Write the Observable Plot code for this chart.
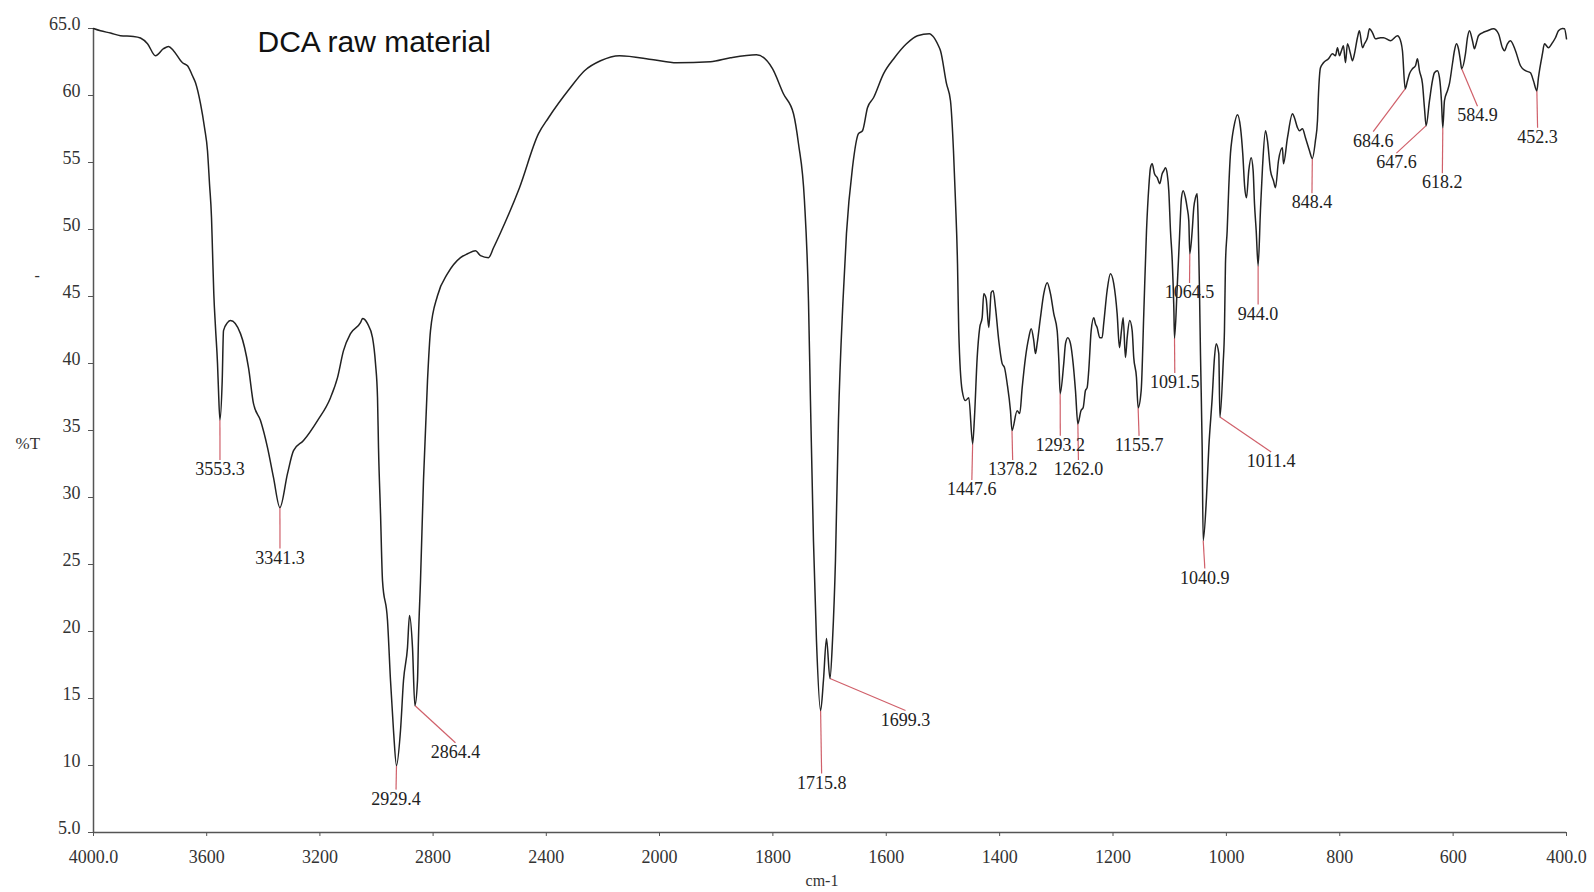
<!DOCTYPE html>
<html>
<head>
<meta charset="utf-8">
<script src="https://cdn.jsdelivr.net/npm/d3@7"></script>
<script src="https://cdn.jsdelivr.net/npm/@observablehq/plot@0.6"></script>
<style>
  html, body { margin: 0; padding: 0; background: #fff; }
  #chart svg { display: block; }
</style>
</head>
<body>
<div id="chart"></div>
<script>
// FT-IR transmission spectrum of DCA raw material (wavenumber in cm-1, %T)
const wavenumber = [
  4000.0, 3975.2, 3939.9, 3904.6, 3858.6, 3833.9, 3809.1, 3780.9, 3752.6, 3734.9,
  3717.3, 3685.5, 3667.8, 3650.2, 3639.5, 3621.9, 3607.7, 3597.2, 3590.1, 3583.0,
  3579.5, 3574.9, 3568.9, 3561.8, 3558.3, 3553.3, 3545.2, 3540.6, 3526.5, 3515.9,
  3480.6, 3452.3, 3434.6, 3409.9, 3385.1, 3363.9, 3341.3, 3314.5, 3293.2, 3257.9,
  3208.4, 3162.5, 3137.8, 3116.6, 3091.9, 3056.5, 3049.4, 3031.7, 3014.1, 3003.5,
  2996.4, 2992.9, 2985.8, 2978.8, 2961.1, 2950.5, 2939.9, 2929.4, 2915.2, 2904.6,
  2890.5, 2883.4, 2872.8, 2864.4, 2855.1, 2851.6, 2844.5, 2834.0, 2819.8, 2809.2,
  2784.5, 2749.1, 2703.2, 2678.4, 2650.1, 2632.5, 2604.2, 2586.5, 2561.8, 2494.7,
  2427.5, 2392.2, 2318.0, 2265.0, 2208.4, 2141.3, 2021.2, 1970.0, 1910.1, 1874.8,
  1828.9, 1800.7, 1781.4, 1763.6, 1754.8, 1744.3, 1737.2, 1733.7, 1728.4, 1723.1,
  1715.8, 1710.8, 1705.4, 1699.3, 1694.8, 1689.6, 1684.3, 1676.3, 1670.2, 1659.6,
  1649.0, 1641.9, 1633.1, 1622.5, 1604.9, 1585.5, 1564.3, 1544.9, 1523.7, 1518.5,
  1507.9, 1504.3, 1493.7, 1486.7, 1481.4, 1477.9, 1474.3, 1472.1, 1466.1, 1460.3,
  1454.4, 1447.6, 1444.4, 1439.6, 1435.1, 1430.8, 1428.0, 1423.8, 1419.1, 1414.9,
  1411.4, 1407.3, 1401.5, 1395.5, 1391.4, 1386.7, 1380.9, 1378.2, 1369.1, 1364.5,
  1360.2, 1354.4, 1348.6, 1344.3, 1339.8, 1336.8, 1333.8, 1328.0, 1322.1, 1316.1,
  1310.3, 1304.5, 1298.5, 1295.3, 1293.2, 1286.9, 1283.8, 1279.8, 1275.0, 1270.3,
  1266.2, 1262.0, 1256.5, 1252.6, 1248.6, 1245.6, 1242.8, 1238.5, 1233.9, 1231.0,
  1228.0, 1223.4, 1219.2, 1216.4, 1210.4, 1204.5, 1198.7, 1192.7, 1188.6, 1185.1,
  1182.1, 1178.0, 1175.0, 1170.5, 1166.2, 1163.4, 1158.6, 1155.7, 1150.3, 1145.7,
  1140.9, 1136.9, 1133.9, 1130.9, 1126.8, 1122.0, 1117.5, 1113.3, 1110.4, 1107.4,
  1104.4, 1101.6, 1098.6, 1095.5, 1092.7, 1091.5, 1086.8, 1082.7, 1079.2, 1076.2,
  1072.2, 1069.2, 1066.3, 1064.5, 1060.3, 1057.5, 1054.5, 1051.5, 1049.8, 1047.5,
  1045.7, 1042.7, 1040.9, 1035.1, 1031.0, 1025.0, 1021.0, 1018.0, 1013.4, 1011.4,
  1005.7, 1003.4, 1001.6, 998.6, 995.8, 992.8, 989.8, 987.0, 980.4, 975.1,
  971.1, 967.6, 964.5, 960.5, 956.3, 952.8, 950.4, 947.4, 944.0, 939.9,
  936.3, 931.0, 927.5, 922.2, 916.9, 913.4, 908.1, 901.1, 899.3, 892.2,
  883.4, 879.9, 874.6, 871.0, 865.8, 860.5, 853.4, 848.4, 842.9, 839.3,
  837.5, 834.0, 828.7, 819.9, 812.9, 807.6, 804.0, 800.5, 797.0, 793.5,
  789.9, 786.4, 781.1, 777.6, 774.0, 768.8, 765.3, 759.9, 756.4, 751.1,
  747.6, 742.2, 737.0, 728.2, 722.9, 710.5, 698.2, 694.7, 689.4, 684.6,
  680.5, 677.0, 671.7, 666.4, 662.9, 659.4, 654.1, 650.6, 647.6, 641.7,
  636.5, 633.0, 627.7, 624.1, 620.6, 618.2, 615.3, 610.0, 606.5, 601.2,
  597.7, 594.1, 590.6, 587.1, 584.9, 578.2, 574.7, 571.2, 565.9, 562.4,
  558.9, 555.3, 548.3, 539.4, 528.8, 520.0, 513.0, 509.4, 504.2, 498.9,
  490.0, 481.2, 472.4, 463.6, 458.3, 452.3, 449.5, 442.4, 438.9, 431.8,
  424.8, 419.5, 414.2, 407.2, 403.6, 400.0
];

const transmittance = [
  65.00, 64.83, 64.66, 64.46, 64.41, 64.29, 63.86, 62.97, 63.49, 63.66,
  63.34, 62.44, 62.22, 61.47, 60.95, 59.39, 57.60, 55.88, 53.42, 50.88,
  48.42, 45.21, 42.68, 39.99, 37.98, 35.80, 38.72, 42.45, 43.05, 43.20,
  42.23, 39.69, 37.00, 35.74, 33.72, 31.48, 29.25, 31.78, 33.50, 34.25,
  35.74, 37.45, 38.95, 40.96, 42.23, 43.05, 43.35, 42.97, 41.93, 39.99,
  37.45, 33.72, 28.80, 23.80, 20.82, 16.34, 12.61, 10.00, 12.61, 16.34,
  18.80, 21.19, 18.80, 14.48, 16.34, 19.55, 23.80, 31.26, 38.72, 42.45,
  45.06, 46.70, 47.90, 48.19, 48.42, 48.05, 47.90, 48.64, 49.76, 53.12,
  57.15, 58.34, 60.50, 61.85, 62.59, 62.97, 62.67, 62.44, 62.52, 62.82,
  63.04, 62.00, 60.13, 58.64, 56.40, 52.15, 44.69, 37.23, 26.79, 19.33,
  14.10, 16.34, 19.47, 16.49, 19.33, 25.30, 35.74, 44.69, 49.69, 54.61,
  57.15, 57.37, 59.09, 59.83, 61.62, 62.82, 63.86, 64.46, 64.61, 64.46,
  63.71, 63.34, 60.88, 59.61, 55.88, 52.15, 47.45, 42.45, 37.98, 37.23,
  37.45, 34.00, 35.96, 40.44, 42.68, 43.42, 45.21, 44.84, 42.68, 45.29,
  45.43, 44.17, 41.71, 39.99, 39.69, 38.50, 36.48, 35.00, 36.48, 36.26,
  38.20, 40.44, 41.93, 42.60, 41.71, 40.74, 41.48, 43.42, 45.21, 46.03,
  45.21, 43.72, 42.45, 39.99, 37.75, 39.99, 41.48, 41.93, 41.48, 39.99,
  37.98, 35.50, 36.48, 36.71, 37.98, 38.20, 39.47, 42.45, 43.42, 42.97,
  42.68, 41.93, 41.93, 42.97, 45.43, 46.70, 45.96, 43.72, 41.18, 42.45,
  43.42, 40.44, 41.93, 43.20, 42.45, 40.44, 38.95, 36.70, 37.98, 43.72,
  49.91, 53.12, 54.61, 54.91, 54.16, 53.87, 53.42, 54.16, 54.39, 54.61,
  54.16, 52.90, 49.91, 47.67, 44.17, 41.90, 45.66, 49.39, 52.37, 52.90,
  52.37, 51.63, 50.66, 48.20, 49.91, 51.63, 52.37, 52.67, 50.66, 45.66,
  40.74, 33.72, 26.80, 30.00, 33.72, 37.45, 40.44, 41.48, 40.74, 36.00,
  39.99, 42.45, 47.45, 49.91, 53.12, 55.66, 56.85, 57.60, 58.57, 57.60,
  55.66, 53.12, 52.37, 54.39, 55.36, 54.39, 51.93, 49.91, 47.30, 51.40,
  54.61, 57.37, 56.63, 54.39, 53.64, 53.12, 55.13, 56.10, 54.91, 56.85,
  58.64, 58.34, 57.60, 57.37, 57.52, 56.85, 55.88, 55.30, 56.63, 58.12,
  60.13, 62.07, 62.44, 62.74, 63.12, 62.97, 63.56, 62.97, 63.34, 63.71,
  62.44, 63.86, 63.12, 62.59, 63.12, 64.31, 64.83, 63.56, 63.86, 64.31,
  64.98, 64.68, 64.23, 64.31, 64.31, 64.09, 64.46, 64.31, 63.34, 60.50,
  61.10, 61.62, 62.00, 62.22, 62.74, 61.85, 60.88, 59.09, 57.75, 59.61,
  61.10, 61.70, 61.85, 61.33, 59.61, 57.60, 59.61, 60.36, 60.88, 62.37,
  63.34, 63.86, 63.49, 62.59, 62.00, 63.12, 64.31, 64.83, 64.09, 63.49,
  63.94, 64.46, 64.68, 64.83, 64.98, 64.61, 63.56, 63.34, 63.86, 64.09,
  63.34, 62.22, 61.85, 61.70, 61.10, 60.35, 61.33, 63.12, 63.86, 63.56,
  63.94, 64.31, 64.83, 65.00, 64.98, 64.23
];

// Picked absorption bands and where each band label sits
const peakWavenumber = [3553.3, 3341.3, 2929.4, 2864.4, 1715.8, 1699.3, 1447.6, 1378.2, 1293.2, 1262.0, 1155.7,
  1091.5, 1064.5, 1040.9, 1011.4, 944.0, 848.4, 684.6, 647.6, 618.2, 584.9, 452.3];
const labelWavenumber = [3553, 3341, 2931, 2721, 1714, 1566, 1449, 1377, 1293, 1261, 1154,
  1091, 1065, 1038, 921, 944, 849, 741, 700, 619, 557, 451];
const labelTransmittance = [32.1, 25.5, 7.5, 11.0, 8.7, 13.4, 30.6, 32.1, 33.9, 32.1, 33.9,
  38.6, 45.3, 24.0, 32.7, 43.7, 52.0, 56.6, 55.0, 53.5, 58.5, 56.9];

const xTicks = [4000, 3600, 3200, 2800, 2400, 2000, 1800, 1600, 1400, 1200, 1000, 800, 600, 400];
const yTicks = [65, 60, 55, 50, 45, 40, 35, 30, 25, 20, 15, 10, 5];

const spectrum = wavenumber.map((w, i) => ({w, t: transmittance[i]}));
const peaks = peakWavenumber.map((w, i) => ({
  w,
  t: transmittance[wavenumber.indexOf(w)],
  lw: labelWavenumber[i],
  lt: labelTransmittance[i],
  label: w.toFixed(1)
}));

const serif = "'Liberation Serif', 'Times New Roman', serif";
const axisColor = "#555";
const fmtX = d => (d === 4000 || d === 400) ? d.toFixed(1) : String(d);
const fmtY = d => (d === 65 || d === 5) ? d.toFixed(1) : String(d);

const chart = Plot.plot({
  width: 1594,
  height: 892,
  marginLeft: 93,
  marginRight: 28,
  marginTop: 28,
  marginBottom: 60,
  style: {background: "#fff", fontFamily: serif, overflow: "visible"},
  // the wavenumber axis is compressed above 2000 cm-1
  x: {type: "linear", domain: [4000, 2000, 400], range: [93, 659, 1566]},
  y: {domain: [5, 65], range: [832, 28]},
  marks: [
    Plot.axisX({ticks: xTicks, tickSize: 4, stroke: axisColor, fill: "none", label: null}),
    Plot.axisY({ticks: yTicks, tickSize: 5, stroke: axisColor, fill: "none", label: null}),
    Plot.ruleX([4000], {y1: 5, y2: 65, stroke: axisColor, strokeWidth: 1.5}),
    Plot.ruleY([5], {x1: 4000, x2: 400, stroke: axisColor, strokeWidth: 1.5}),
    Plot.text(xTicks, {x: d => d, y: 5, text: fmtX, dy: 25, fontSize: 18, fill: "#333", fontFamily: serif}),
    Plot.text(yTicks, {x: 4000, y: d => d, text: fmtY, textAnchor: "end", dx: -13, dy: -4, fontSize: 18, fill: "#333", fontFamily: serif}),
    Plot.text(["%T"], {frameAnchor: "left", textAnchor: "start", dx: -78, dy: 13, fontSize: 17, fill: "#333", fontFamily: serif}),
    Plot.text(["-"], {frameAnchor: "left", textAnchor: "start", dx: -59, dy: -155, fontSize: 16, fill: "#333", fontFamily: serif}),
    Plot.text(["cm-1"], {frameAnchor: "bottom", dx: -8, dy: 53, fontSize: 16, fill: "#333", fontFamily: serif}),
    Plot.text(["DCA raw material"], {frameAnchor: "top-left", dx: 164, dy: 2, textAnchor: "start",
      fontSize: 30, fill: "#111", fontFamily: "'Liberation Sans', Arial, sans-serif"}),
    // leader lines from each band minimum to its label
    Plot.link(peaks, {x1: "w", y1: "t", x2: "lw", y2: d => d.lt + 0.7, stroke: "#d0606a", strokeWidth: 1.2}),
    Plot.line(spectrum, {x: "w", y: "t", curve: "monotone-x", stroke: "#222", strokeWidth: 1.5}),
    Plot.text(peaks, {x: "lw", y: "lt", text: "label", fontSize: 18, fill: "#222", fontFamily: serif})
  ]
});

document.getElementById("chart").append(chart);
</script>
</body>
</html>
